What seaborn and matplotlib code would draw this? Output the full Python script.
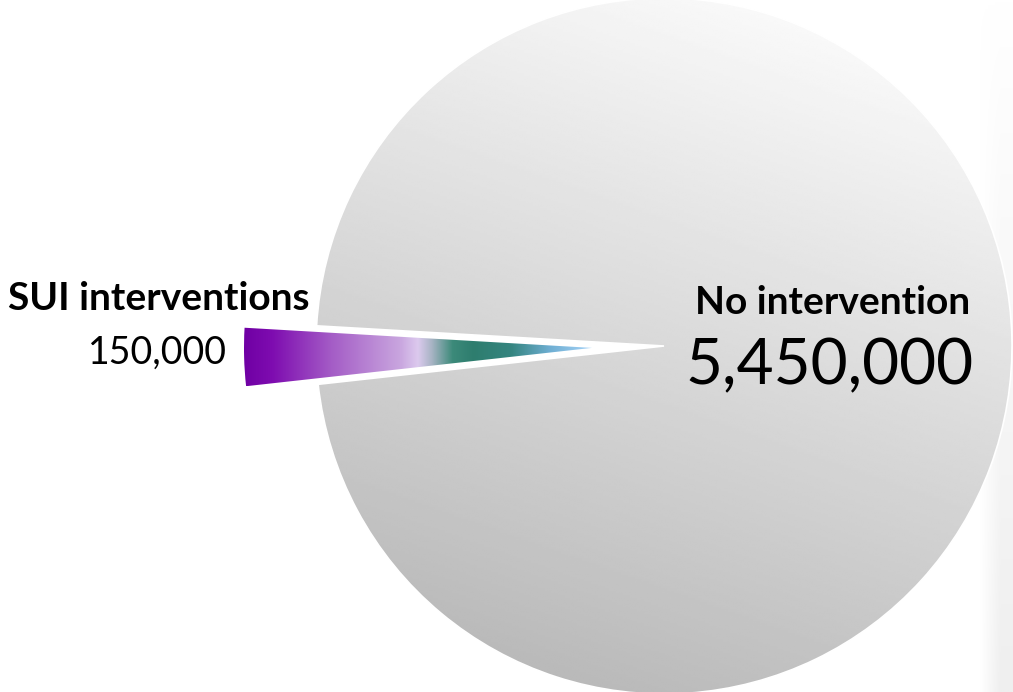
import numpy as np
import matplotlib
matplotlib.use("Agg")
import matplotlib.pyplot as plt
from matplotlib.colors import LinearSegmentedColormap
import seaborn as sns

# ================= 数据 =================
labels = ["SUI interventions", "No intervention"]
values = [150000, 5450000]
value_text = [f"{v:,}" for v in values]

sns.set_style("white")
plt.rcParams["font.family"] = ["Lato", "DejaVu Sans"]

W, H = 1013, 692
fig = plt.figure(figsize=(W / 100, H / 100), dpi=100)
ax = fig.add_axes([0, 0, 1, 1])

cx, cy, R = 664, 346, 348
total = sum(values)
small_angle = 360 * values[0] / total
start = 181.5 - small_angle / 2

# explode 在 pie 里是绝对数据单位
wedges, _ = ax.pie(values, explode=[0.207 * R, 0], startangle=start, radius=R,
                   center=(cx, cy), counterclock=True,
                   wedgeprops=dict(linewidth=0, facecolor="none"))

ax.set_xlim(0, W)
ax.set_ylim(0, H)
ax.set_aspect("equal")
ax.axis("off")

# ---- 右侧淡灰背景条（上白下灰，左侧渐隐）----
vy = np.linspace(0.0, 1.0, 200).reshape(-1, 1)
hx = np.clip(np.linspace(0, 1.6, 60), 0, 1).reshape(1, -1)
band = 1 - (1 - vy) * hx
ax.imshow(band, extent=(980, W, 0, H), cmap=sns.blend_palette(["#efefef", "#ffffff"], as_cmap=True),
          vmin=0, vmax=1, aspect="auto", zorder=0, origin="lower", interpolation="bilinear")

# ---- 大扇区：灰色渐变 ----
big = wedges[1]
xs = np.linspace(cx - R, cx + R, 300)
ys = np.linspace(cy - R, cy + R, 300)
gx, gy = np.meshgrid(xs, ys)
gy_img = H - gy
gray = 217 + 0.03 * (gx - cx) - 0.086 * (gy_img - 346)
gray = np.clip(gray, 0, 255) / 255
im = ax.imshow(gray, extent=(cx - R, cx + R, cy - R, cy + R), cmap="gray",
               vmin=0, vmax=1, origin="lower", zorder=1, interpolation="bilinear")
im.set_clip_path(big)
big.set_edgecolor("white")
big.set_linewidth(1.2)
big.set_zorder(2)

# ---- 小扇区：紫-绿-蓝渐变 ----
small = wedges[0]
stops = [(0.0, "#7000a4"), (0.08, "#7e0cb0"), (0.25, "#a45cc6"), (0.45, "#c9a6df"),
         (0.50, "#dccaee"), (0.54, "#a8b4c4"), (0.60, "#3c8a7a"), (0.66, "#2e7d6e"),
         (0.77, "#358580"), (0.88, "#6eaed2"), (1.0, "#a6d3f8")]
wcmap = LinearSegmentedColormap.from_list("wedge", stops)
bb = small.get_path().get_extents()
grad = np.linspace(0, 1, 512).reshape(1, -1)
im2 = ax.imshow(grad, extent=(bb.x0, bb.x1, bb.y0, bb.y1), cmap=wcmap,
                vmin=0, vmax=1, aspect="auto", zorder=1, interpolation="bilinear")
im2.set_clip_path(small)

# ---- 文本 ----
ax.text(159, H - 298, labels[0], ha="center", va="center", fontsize=28,
        fontweight="bold", color="black", zorder=5)
ax.text(227, H - 353, value_text[0], ha="right", va="center", fontsize=27,
        color="black", zorder=5)
ax.text(833, H - 303, labels[1], ha="center", va="center", fontsize=28,
        fontweight="bold", color="black", zorder=5)
ax.text(830, H - 366, value_text[1], ha="center", va="center", fontsize=46,
        color="black", zorder=5)

fig.savefig("out.png", dpi=100)
